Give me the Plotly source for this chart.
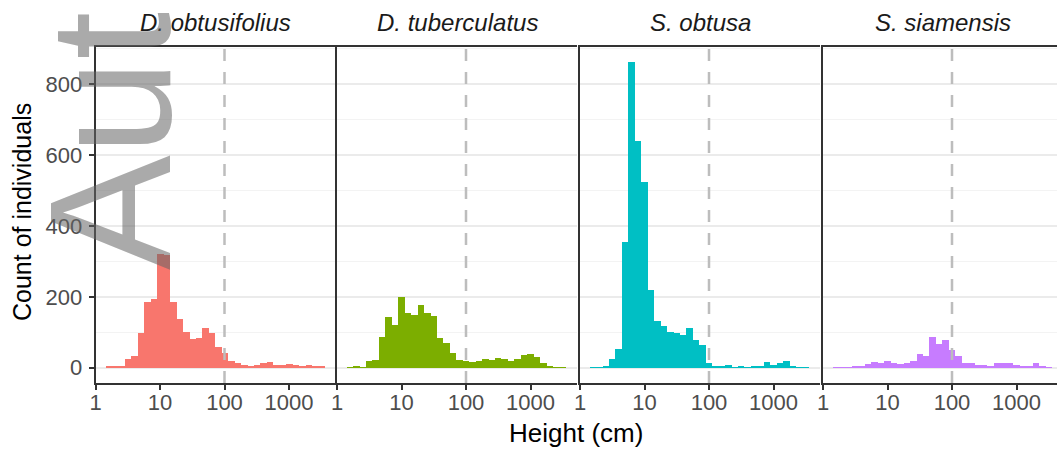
import plotly.graph_objects as go

# ---------------- data ----------------
species = ["D. obtusifolius", "D. tuberculatus", "S. obtusa", "S. siamensis"]
colours = ["#F8766D", "#7CAE00", "#00BFC4", "#C77CFF"]

# histogram bin centres on log10(height in cm), bin width 0.1
bin_centres_log10 = [0.2, 0.3, 0.4, 0.5, 0.6, 0.7, 0.8, 0.9, 1.0, 1.1, 1.2, 1.3,
                     1.4, 1.5, 1.6, 1.7, 1.8, 1.9, 2.0, 2.1, 2.2, 2.3, 2.4, 2.5,
                     2.6, 2.7, 2.8, 2.9, 3.0, 3.1, 3.2, 3.3, 3.4, 3.5]
bin_width_log10 = 0.1

counts_d_obtusifolius = [3, 3, 3, 26, 34, 98, 185, 195, 322, 318, 185, 138,
                         101, 80, 84, 112, 98, 58, 41, 20, 12, 7, 5, 9,
                         12, 17, 7, 9, 11, 7, 3, 7, 5, 4]
counts_d_tuberculatus = [2, 6, 1, 19, 22, 87, 142, 121, 201, 155, 150, 177,
                         155, 147, 83, 71, 42, 22, 20, 15, 18, 25, 22, 28,
                         25, 18, 25, 37, 39, 31, 14, 6, 1, 1]
counts_s_obtusa = [1, 2, 4, 26, 52, 355, 862, 641, 525, 220, 133, 118,
                   101, 98, 93, 111, 79, 63, 12, 4, 4, 7, 2, 6,
                   2, 6, 6, 15, 8, 12, 20, 6, 2, 1]
counts_s_siamensis = [1, 1, 2, 3, 6, 10, 15, 13, 19, 13, 10, 13,
                      19, 39, 33, 86, 67, 79, 51, 32, 12, 12, 9, 9,
                      5, 12, 12, 12, 9, 5, 6, 12, 6, 2]
all_counts = [counts_d_obtusifolius, counts_d_tuberculatus, counts_s_obtusa, counts_s_siamensis]

x_tick_vals_log10 = [0, 1, 2, 3]
x_tick_labels = ["1", "10", "100", "1000"]
y_tick_vals = [0, 200, 400, 600, 800]
threshold_log10 = 2  # 100 cm
x_title = "Height (cm)"
y_title = "Count of individuals"
watermark = "Author Manuscript"

# ---------------- layout geometry ----------------
W, H = 1057, 450
ML, MR, MT, MB = 95, 0, 47, 67
PW = W - ML - MR
PH = H - MT - MB
decade_px = 64.5
panel_left_px = [95.5, 337.0, 580.0, 823.0]
xmax_full = 3.726

def px_x(p):
    return (p - ML) / PW

def px_y(p):
    return (H - MB - p) / PH

FONT = "Liberation Sans, Arial, sans-serif"
ymax_data = max(max(c) for c in all_counts)
y_range = [-0.05 * ymax_data, 1.05 * ymax_data]

fig = go.Figure()
for i, (name, col, cnt) in enumerate(zip(species, colours, all_counts)):
    ax = "" if i == 0 else str(i + 1)
    fig.add_trace(go.Bar(
        x=bin_centres_log10, y=cnt, width=bin_width_log10,
        marker=dict(color=col, line=dict(width=0)),
        xaxis="x" + ax, yaxis="y" + ax, name=name, showlegend=False,
    ))
    left = panel_left_px[i]
    right = min(left + xmax_full * decade_px, W - MR)
    xr = [0, (right - left) / decade_px]
    fig.layout["xaxis" + ax] = dict(
        domain=[px_x(left), px_x(right)], range=xr, anchor="y" + ax,
        tickvals=x_tick_vals_log10, ticktext=x_tick_labels,
        showgrid=False, zeroline=False,
        showline=True, mirror=True, linecolor="#333333", linewidth=1.8,
        ticks="outside", ticklen=5, tickwidth=1.6, tickcolor="#333333",
        tickfont=dict(family=FONT, size=22, color="#4d4d4d"),
        ticklabelstandoff=-6,
    )
    fig.layout["yaxis" + ax] = dict(
        domain=[0, 1], range=y_range, anchor="x" + ax,
        tickvals=y_tick_vals, showticklabels=(i == 0),
        ticks="outside" if i == 0 else "", ticklen=5, tickwidth=1.6, tickcolor="#333333",
        tickfont=dict(family=FONT, size=22, color="#4d4d4d"),
        showgrid=True, gridcolor="#ebebeb", gridwidth=1.8,
        minor=dict(dtick=100, tick0=0, showgrid=True, gridcolor="#f3f3f3", gridwidth=1),
        zeroline=False,
        showline=True, mirror=False, linecolor="#333333", linewidth=1.8,
        ticklabelstandoff=2,
    )
    fig.add_shape(type="line", xref="x" + ax, yref="y" + ax + " domain",
                  x0=threshold_log10, x1=threshold_log10, y0=0, y1=1,
                  line=dict(color="#bdbdbd", width=2.5, dash="12px,11px"), layer="above")
    fig.add_annotation(text=name, xref="paper", yref="paper",
                       x=px_x(left + xmax_full * decade_px / 2), y=px_y(22),
                       xanchor="center", yanchor="middle", showarrow=False,
                       font=dict(family=FONT, size=24, color="#1a1a1a", style="italic"))

fig.add_annotation(text=x_title, xref="paper", yref="paper", x=px_x(576), y=px_y(433),
                   xanchor="center", yanchor="middle", showarrow=False,
                   font=dict(family=FONT, size=26, color="#000000"))
fig.add_annotation(text=y_title, xref="paper", yref="paper", x=px_x(22), y=px_y(212),
                   xanchor="center", yanchor="middle", textangle=-90, showarrow=False,
                   font=dict(family=FONT, size=25, color="#000000"))

# watermark
fig.add_annotation(text=watermark, xref="paper", yref="paper", x=px_x(110), y=px_y(272),
                   xanchor="center", yanchor="bottom", textangle=-90, showarrow=False,
                   font=dict(family=FONT, size=172, color="rgba(100,100,100,0.55)"))

fig.update_layout(
    width=W, height=H, margin=dict(l=ML, r=MR, t=MT, b=MB, pad=0),
    paper_bgcolor="white", plot_bgcolor="white", bargap=0,
    font=dict(family=FONT),
)
fig.write_html("out.html")
